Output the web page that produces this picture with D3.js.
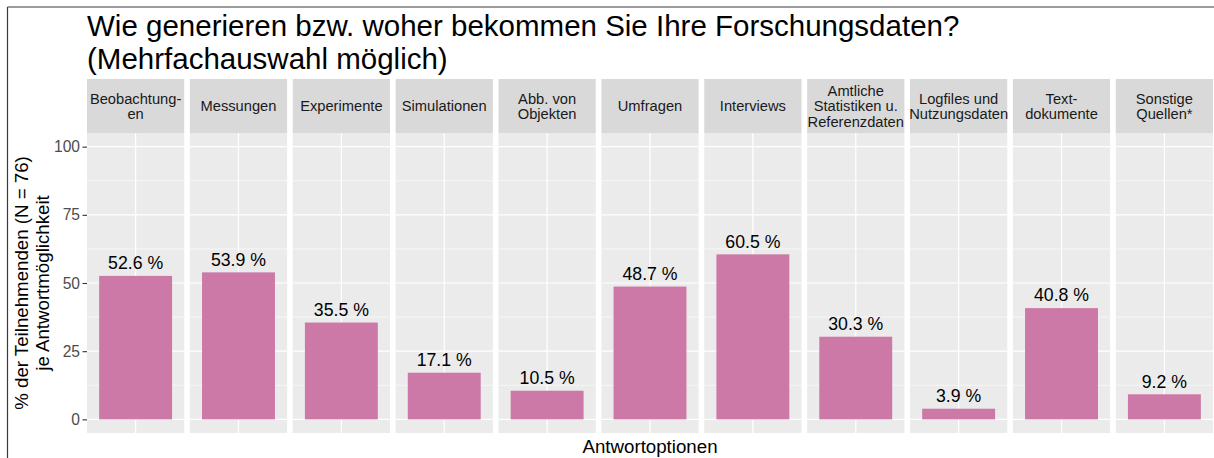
<!DOCTYPE html>
<html>
<head>
<meta charset="utf-8">
<script src="https://cdn.jsdelivr.net/npm/d3@7"></script>
<style>
  html, body { margin: 0; padding: 0; background: #fff; }
  svg { display: block; font-family: "Liberation Sans", Arial, sans-serif; }
</style>
</head>
<body>
<svg id="chart" width="1214" height="458"></svg>
<script>
const titleLines = ["Wie generieren bzw. woher bekommen Sie Ihre Forschungsdaten?", "(Mehrfachauswahl möglich)"];
const categories = ["Beobachtung-\nen", "Messungen", "Experimente", "Simulationen", "Abb. von\nObjekten", "Umfragen", "Interviews", "Amtliche\nStatistiken u.\nReferenzdaten", "Logfiles und\nNutzungsdaten", "Text-\ndokumente", "Sonstige\nQuellen*"];
const values = [52.6, 53.9, 35.5, 17.1, 10.5, 48.7, 60.5, 30.3, 3.9, 40.8, 9.2];
const yTicks = [0, 25, 50, 75, 100];
const yMinor = [12.5, 37.5, 62.5, 87.5];
const yTitleLines = ["% der Teilnehmenden (N = 76)", "je Antwortmöglichkeit"];
const xTitle = "Antwortoptionen";

const data = categories.map((c, i) => ({ cat: c, value: values[i] }));

const svg = d3.select("#chart");
const plotLeft = 87, plotRight = 1213;
const stripTop = 79, stripBottom = 133, panelBottom = 433;

// frame lines
svg.append("line").attr("x1", 7.5).attr("x2", 1214).attr("y1", 7).attr("y2", 7)
  .attr("stroke", "#3a3a3a").attr("stroke-width", 1.2);
svg.append("line").attr("x1", 7.5).attr("x2", 7.5).attr("y1", 7).attr("y2", 458)
  .attr("stroke", "#3a3a3a").attr("stroke-width", 1.2);

// title
svg.append("g").selectAll("text").data(titleLines).join("text")
  .attr("x", plotLeft).attr("y", (d, i) => 35.5 + i * 33)
  .attr("font-size", 29.5).attr("fill", "#000").text(d => d);

const fx = d3.scaleBand().domain(categories).range([plotLeft, plotRight])
  .paddingInner(0.055).paddingOuter(0);
const y = d3.scaleLinear().domain([-5, 105]).range([panelBottom, stripBottom]);

const panels = svg.append("g").selectAll("g.panel").data(data).join("g")
  .attr("class", "panel")
  .attr("transform", d => `translate(${fx(d.cat)},0)`);

const bw = fx.bandwidth();
const xIn = d3.scaleBand().domain(["a"]).range([0, bw]).paddingInner(0).paddingOuter(1 / 6);

// strip
panels.append("rect").attr("x", 0).attr("y", stripTop).attr("width", bw)
  .attr("height", stripBottom - stripTop).attr("fill", "#D9D9D9");
panels.each(function(d) {
  const lines = d.cat.split("\n");
  const g = d3.select(this);
  const n = lines.length;
  g.selectAll("text.strip").data(lines).join("text").attr("class", "strip")
    .attr("x", bw / 2)
    .attr("y", (l, i) => 106 + 5.25 + (i - (n - 1) / 2) * 15.5)
    .attr("text-anchor", "middle").attr("font-size", 14.7).attr("fill", "#1A1A1A")
    .text(l => l);
});

// panel background
panels.append("rect").attr("x", 0).attr("y", stripBottom).attr("width", bw)
  .attr("height", panelBottom - stripBottom).attr("fill", "#EBEBEB");
// minor grid
panels.selectAll("line.minor").data(yMinor).join("line").attr("class", "minor")
  .attr("x1", 0).attr("x2", bw).attr("y1", d => y(d)).attr("y2", d => y(d))
  .attr("stroke", "#fff").attr("stroke-width", 0.6);
// major grid
panels.selectAll("line.major").data(yTicks).join("line").attr("class", "major")
  .attr("x1", 0).attr("x2", bw).attr("y1", d => y(d)).attr("y2", d => y(d))
  .attr("stroke", "#fff").attr("stroke-width", 1.2);
panels.append("line")
  .attr("x1", xIn("a") + xIn.bandwidth() / 2).attr("x2", xIn("a") + xIn.bandwidth() / 2)
  .attr("y1", stripBottom).attr("y2", panelBottom)
  .attr("stroke", "#fff").attr("stroke-width", 1.2);

// bars
panels.append("rect")
  .attr("x", xIn("a")).attr("width", xIn.bandwidth())
  .attr("y", d => y(d.value)).attr("height", d => y(0) - y(d.value))
  .attr("fill", "#CC79A7");
// labels
panels.append("text")
  .attr("x", xIn("a") + xIn.bandwidth() / 2).attr("y", d => y(d.value) - 6.7)
  .attr("text-anchor", "middle").attr("font-size", 17.7).attr("fill", "#000")
  .text(d => d.value.toFixed(1) + " %");

// y axis
const yAxis = d3.axisLeft(y).tickValues(yTicks).tickSize(4.5).tickPadding(2.5);
const ga = svg.append("g").attr("transform", `translate(${plotLeft},0)`).call(yAxis);
ga.select(".domain").remove();
ga.selectAll(".tick line").attr("stroke", "#333").attr("stroke-width", 1.1);
ga.selectAll(".tick text").attr("fill", "#4D4D4D").attr("font-size", 15.6)
  .attr("font-family", "Liberation Sans, Arial, sans-serif");

// y title
const yMid = (stripBottom + panelBottom) / 2;
svg.append("g").selectAll("text").data(yTitleLines).join("text")
  .attr("transform", (d, i) => `translate(${27.5 + i * 21.5},${yMid}) rotate(-90)`)
  .attr("text-anchor", "middle").attr("font-size", 18.7).attr("fill", "#000")
  .text(d => d);

// x title
svg.append("text").attr("x", (plotLeft + plotRight) / 2).attr("y", 453)
  .attr("text-anchor", "middle").attr("font-size", 18.7).attr("fill", "#000")
  .text(xTitle);
</script>
</body>
</html>
